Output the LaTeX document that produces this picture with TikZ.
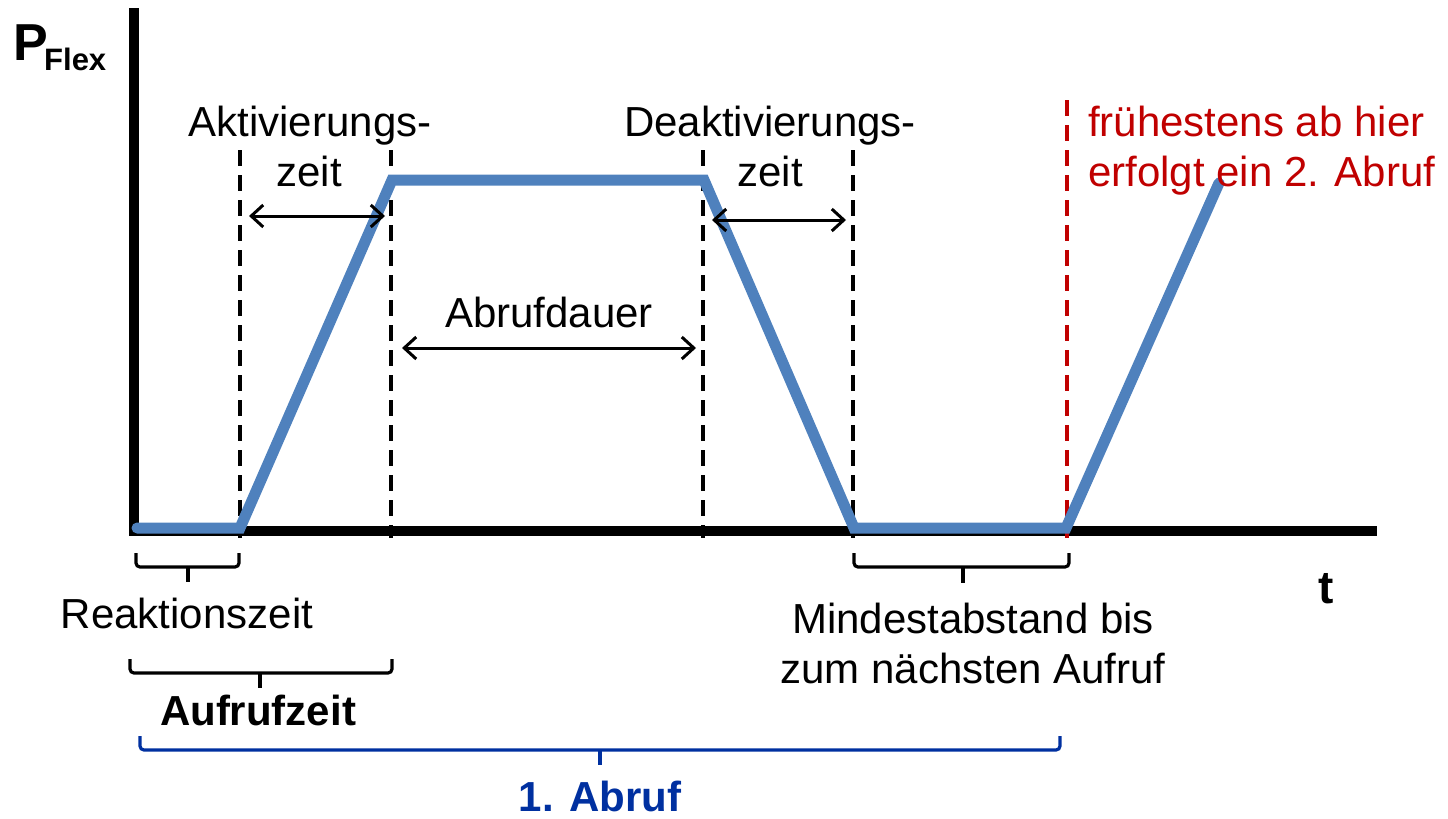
\documentclass[tikz,border=0pt]{standalone}
\usepackage{fontspec}
\setmainfont{Liberation Sans}
\usetikzlibrary{arrows.meta}
\definecolor{flexblue}{RGB}{79,129,189}
\definecolor{darkred}{RGB}{192,0,0}
\definecolor{navy}{RGB}{0,48,160}
\tikzset{
  axis/.style={line width=10pt},
  curve/.style={flexblue, line width=11pt, line cap=round, line join=miter},
  vdash/.style={line width=3.2pt, dash pattern=on 16pt off 9pt},
  rdash/.style={darkred, line width=3.2pt, dash pattern=on 16pt off 9pt},
  dimarrow/.style={line width=3pt, {Straight Barb[length=12pt,width=22pt]}-{Straight Barb[length=12pt,width=22pt]}},
  bracket/.style={line width=3.2pt, rounded corners=4pt},
  lbl/.style={font=\fontsize{42}{50}\selectfont, inner sep=0pt, anchor=base},
  blbl/.style={font=\fontsize{42}{50}\selectfont\bfseries, inner sep=0pt, anchor=base}
}
\begin{document}
\begin{tikzpicture}[x=1pt,y=-1pt]
\useasboundingbox (0,0) rectangle (1448,819);
% axes
\coordinate (ytop) at (134,8);
\coordinate (ybot) at (134,536);
\coordinate (xl) at (129,531);
\coordinate (xr) at (1377,531);
\draw[axis] (ytop) -- (ybot);
\draw[axis] (xl) -- (xr);
% dashed markers
\foreach \n/\x in {a/240,b/391,c/703,d/853}{
  \coordinate (\n t) at (\x,150);
  \coordinate (\n b) at (\x,538);
  \draw[vdash] (\n t) -- (\n b);
}
\coordinate (rt) at (1067,100);
\coordinate (rb) at (1067,538);
\draw[rdash] (rt) -- (rb);
% power curve
\coordinate (p0) at (137,528);
\coordinate (p1) at (240,528);
\coordinate (p2) at (392,180);
\coordinate (p3) at (704,180);
\coordinate (p4) at (854,528);
\coordinate (p5) at (1066,528);
\coordinate (p6) at (1219,183);
\draw[curve] (p0) -- (p1) -- (p2) -- (p3) -- (p4) -- (p5) -- (p6);
% axis labels
\node[inner sep=0pt, anchor=base west, font=\fontsize{52}{60}\selectfont\bfseries] (P) at (13,60) {P};
\node[inner sep=0pt, anchor=base west, font=\fontsize{31}{36}\selectfont\bfseries] (Flex) at (44,70) {Flex};
\node[inner sep=0pt, anchor=base, font=\fontsize{46}{54}\selectfont\bfseries] (t) at (1326,603) {t};
% dimension arrows
\coordinate (a1) at (249,216);
\coordinate (a2) at (385,216);
\draw[dimarrow] (a1) -- (a2);
\coordinate (d1) at (712,220);
\coordinate (d2) at (846,220);
\draw[dimarrow] (d1) -- (d2);
\coordinate (m1) at (402,348);
\coordinate (m2) at (696,348);
\draw[dimarrow] (m1) -- (m2);
% labels
\node[lbl] (akt1) at (310,136) {Aktivierungs-};
\node[lbl] (akt2) at (309,186) {zeit};
\node[lbl] (deakt1) at (770,136) {Deaktivierungs-};
\node[lbl] (deakt2) at (770,186) {zeit};
\node[lbl] (abd) at (549,327) {Abrufdauer};
\node[lbl, anchor=base west, text=darkred] (fr1) at (1088,136) {frühestens ab hier};
\node[lbl, anchor=base west, text=darkred] (fr2) at (1088,186) {erfolgt ein 2. Abruf};
% brackets
\draw[bracket] (136,553) -- (136,567) -- (239,567) -- (239,553);
\draw[line width=3.2pt] (188,566) -- (188,582);
\node[lbl] (reak) at (187,628) {Reaktionszeit};
\draw[bracket] (130,659) -- (130,673) -- (392,673) -- (392,659);
\draw[line width=3.2pt] (260,672) -- (260,688);
\node[blbl] (auf) at (258,725) {Aufrufzeit};
\draw[bracket] (854,553) -- (854,567) -- (1069,567) -- (1069,553);
\draw[line width=3.2pt] (963,566) -- (963,583);
\node[lbl] (min1) at (973,633) {Mindestabstand bis};
\node[lbl] (min2) at (973,683) {zum nächsten Aufruf};
\draw[bracket, navy] (140,736) -- (140,750) -- (1060,750) -- (1060,736);
\draw[line width=3.2pt, navy] (600,749) -- (600,765);
\node[blbl, text=navy] (abruf) at (600,811) {1. Abruf};
\end{tikzpicture}
\end{document}
